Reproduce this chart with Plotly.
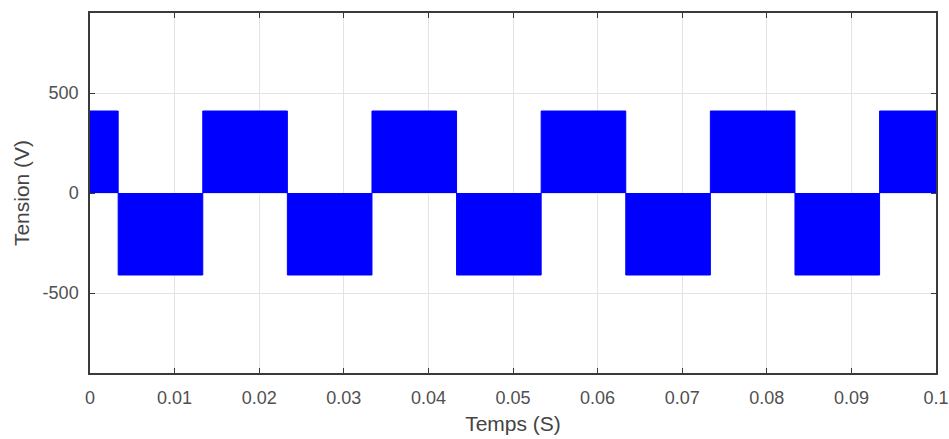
import plotly.graph_objects as go

# Inverter output voltage: switching instants (s) and the level held after each
switch_times = [0.0, 0.00333, 0.01333, 0.02333, 0.03333, 0.04333,
                0.05333, 0.06333, 0.07333, 0.08333, 0.09333]
levels = [410, -410, 410, -410, 410, -410, 410, -410, 410, -410, 410]
t_end = 0.1

x_ticks = [0, 0.01, 0.02, 0.03, 0.04, 0.05, 0.06, 0.07, 0.08, 0.09, 0.1]
x_tick_text = ["0", "0.01", "0.02", "0.03", "0.04", "0.05", "0.06", "0.07", "0.08", "0.09", "0.1"]
y_ticks = [-500, 0, 500]
y_tick_text = ["-500", "0", "500"]

t = switch_times + [t_end]
v = levels + [levels[-1]]

fig = go.Figure()
fig.add_trace(go.Scatter(
    x=t, y=v, mode="lines", line=dict(color="#0000ff", width=1, shape="hv"),
    fill="tozeroy", fillcolor="#0000ff", hoverinfo="skip", showlegend=False,
))

axis_common = dict(
    showline=True, linecolor="#3a3a3a", linewidth=1.5, mirror="ticks",
    ticks="inside", ticklen=5, tickcolor="#3a3a3a", tickwidth=1.2,
    showgrid=True, gridcolor="#e3e3e3", gridwidth=1, zeroline=False,
    automargin=False,
    tickfont=dict(family="Liberation Sans, Arial, sans-serif", size=18, color="#505050"),
    title_font=dict(family="Liberation Sans, Arial, sans-serif", size=21, color="#444444"),
)

fig.update_xaxes(range=[0, 0.1], tickvals=x_ticks, ticktext=x_tick_text,
                 ticklabelstandoff=8, title_text="Temps (S)", title_standoff=9,
                 **axis_common)
fig.update_yaxes(range=[-900, 900], tickvals=y_ticks, ticktext=y_tick_text,
                 ticklabelstandoff=6, title_text="Tension (V)", title_standoff=7,
                 **axis_common)

fig.update_layout(
    width=949, height=439,
    margin=dict(l=90, r=13, t=13, b=66),
    plot_bgcolor="white", paper_bgcolor="white",
)

fig.write_html("out.html")
